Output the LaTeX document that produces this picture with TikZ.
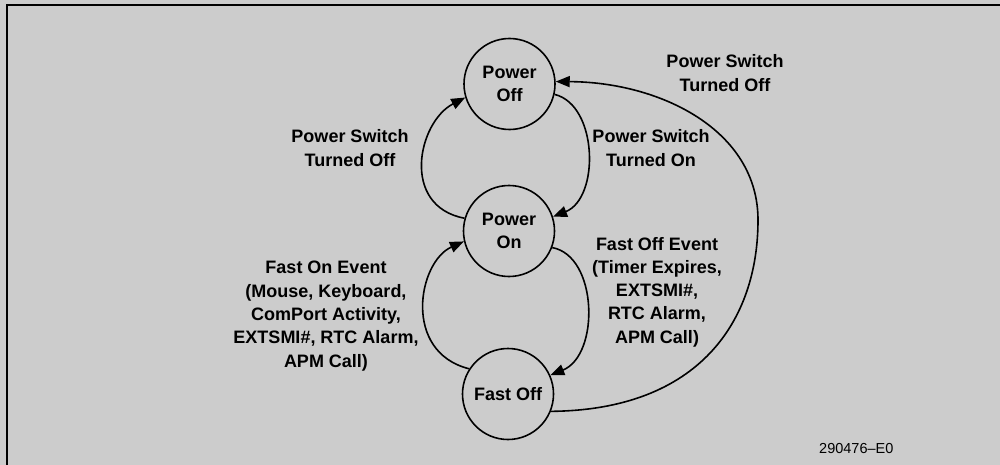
\documentclass[tikz,border=0pt]{standalone}
\usepackage{fontspec}
\setmainfont{Liberation Sans}
\usetikzlibrary{arrows.meta}
\definecolor{bg}{HTML}{CCCCCC}
\definecolor{ink}{HTML}{000000}
\begin{document}
\begin{tikzpicture}[x=1pt,y=-1pt,
  state/.style={circle,draw=ink,line width=1.6pt,minimum size=91pt,inner sep=0pt,
    align=center,font=\fontsize{18}{23.3}\selectfont\bfseries,text=ink},
  lbl/.style={align=center,font=\fontsize{18}{23.3}\selectfont\bfseries,text=ink,inner sep=0pt},
  trans/.style={draw=ink,line width=1.6pt,-{Triangle[length=14pt,width=11pt]}}
]
\fill[bg] (0,0) rectangle (1000,465);
\useasboundingbox (0,0) rectangle (1000,465);
\draw[ink,line width=2pt] (6.5,465) -- (6.5,5.5) -- (1000,5.5);

\node[state] (poff) at (509.5,84) {Power\\Off};
\node[state] (pon)  at (509,231) {Power\\On};
\node[state] (fo)   at (508,394) {Fast Off};

\draw[trans] (poff.-13) .. controls (598,105) and (600,198) .. (pon.18);
\draw[trans] (pon.164) .. controls (400,206) and (418,122) .. (poff.197);
\draw[trans] (pon.-21) .. controls (598,256) and (600,355) .. (fo.24);
\draw[trans] (fo.147) .. controls (402,352) and (418,262) .. (pon.193);
\draw[trans] (fo.-22) .. controls (700,410) and (758,320) .. (758,220)
   .. controls (758,130) and (660,82) .. (poff.3);

\node[lbl] (l1) at (725,73) {Power Switch\\Turned Off};
\node[lbl] (l2) at (651,148) {Power Switch\\Turned On};
\node[lbl] (l3) at (350,148) {Power Switch\\Turned Off};
\node[lbl] (l4) at (657,292) {Fast Off Event\\(Timer Expires,\\EXTSMI\#,\\RTC Alarm,\\APM Call)};
\node[lbl] (l5) at (326,316) {Fast On Event\\(Mouse, Keyboard,\\ComPort Activity,\\EXTSMI\#, RTC Alarm,\\APM Call)};
\node[anchor=base west,inner sep=0pt,font=\fontsize{14.5}{16}\selectfont,text=ink] (fig) at (819,453) {290476--E0};
\end{tikzpicture}
\end{document}
